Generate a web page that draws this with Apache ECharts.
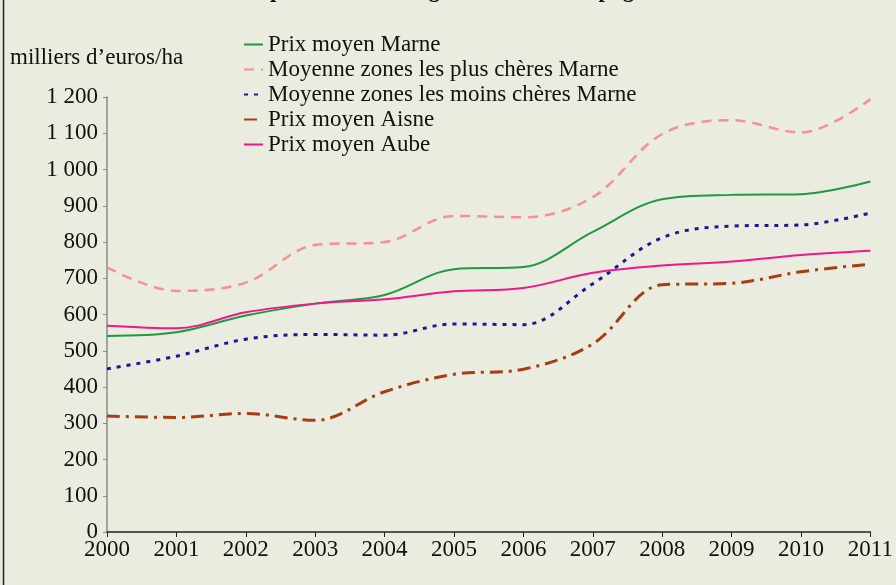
<!DOCTYPE html>
<html>
<head>
<meta charset="utf-8">
<script src="https://cdn.jsdelivr.net/npm/echarts@6/dist/echarts.min.js"></script>
<style>
  html, body { margin: 0; padding: 0; background: #e9ecde; }
  #chart { width: 896px; height: 585px; }
</style>
</head>
<body>
<div id="chart"></div>
<script>
const years = ['2000', '2001', '2002', '2003', '2004', '2005', '2006', '2007', '2008', '2009', '2010', '2011']
const prixMarne = [541, 551, 597, 630, 654, 725, 731, 828, 918, 930, 932, 967]
const plusCheresMarne = [730, 665, 688, 792, 800, 872, 868, 924, 1098, 1136, 1102, 1194]
const moinsCheresMarne = [450, 485, 532, 545, 543, 574, 572, 685, 812, 844, 847, 880]
const prixAisne = [320, 316, 327, 308, 387, 435, 449, 519, 682, 686, 718, 739]
const prixAube = [569, 562, 606, 630, 642, 664, 673, 715, 735, 746, 764, 776]

const serif = '"Liberation Serif", "DejaVu Serif", serif'

const chart = echarts.init(document.getElementById('chart'))

const lineSeries = (name, data, color, type, width) => ({
  name: name,
  type: 'line',
  data: data,
  smooth: 0.35,
  symbol: 'none',
  lineStyle: { color: color, width: width, type: type },
  itemStyle: { color: color }
})

const option = {
  backgroundColor: '#e9ecde',
  animation: false,
  title: {
    text: 'Le prix des terres agricoles en Champagne',
    left: 'center',
    top: -25,
    textStyle: { fontFamily: serif, fontWeight: 'bold', fontSize: 23, color: '#111' }
  },
  graphic: [
    {
      type: 'line',
      shape: { x1: 3.5, y1: 0, x2: 3.5, y2: 585 },
      style: { stroke: '#222', lineWidth: 1.5 }
    },
    {
      type: 'text',
      left: 10,
      top: 46,
      style: { text: 'milliers d’euros/ha', font: '23px ' + serif, fill: '#111' }
    }
  ],
  legend: {
    orient: 'vertical',
    left: 238,
    top: 28,
    itemWidth: 19,
    itemHeight: 12,
    itemGap: 2,
    itemStyle: { opacity: 0 },
    textStyle: { fontFamily: serif, fontSize: 23, color: '#111' },
    data: ['Prix moyen Marne', 'Moyenne zones les plus chères Marne', 'Moyenne zones les moins chères Marne', 'Prix moyen Aisne', 'Prix moyen Aube']
  },
  grid: { left: 107, right: 23, top: 97, bottom: 53 },
  xAxis: {
    type: 'category',
    data: years,
    boundaryGap: false,
    axisLine: { lineStyle: { color: '#222', width: 1.5 } },
    axisTick: { show: true, length: 5, lineStyle: { color: '#222' } },
    axisLabel: { fontFamily: serif, fontSize: 23, color: '#111', margin: 6 }
  },
  yAxis: {
    type: 'value',
    min: 0,
    max: 1200,
    interval: 100,
    axisLine: { show: true, lineStyle: { color: '#8a8a8a', width: 1.5 } },
    axisTick: { show: true, length: 4, lineStyle: { color: '#8a8a8a' } },
    splitLine: { show: false },
    axisLabel: {
      fontFamily: serif,
      fontSize: 23,
      color: '#111',
      margin: 9,
      formatter: v => v >= 1000 ? Math.floor(v / 1000) + ' ' + String(v % 1000).padStart(3, '0') : String(v)
    }
  },
  series: [
    lineSeries('Prix moyen Marne', prixMarne, '#1f9a42', 'solid', 2),
    lineSeries('Moyenne zones les plus chères Marne', plusCheresMarne, '#fa8f8f', [10, 7], 2.5),
    lineSeries('Moyenne zones les moins chères Marne', moinsCheresMarne, '#23139c', [4, 6], 3),
    lineSeries('Prix moyen Aisne', prixAisne, '#a83c12', [13, 6, 3, 6], 3),
    lineSeries('Prix moyen Aube', prixAube, '#f2168a', 'solid', 2)
  ]
}

chart.setOption(option)
</script>
</body>
</html>
